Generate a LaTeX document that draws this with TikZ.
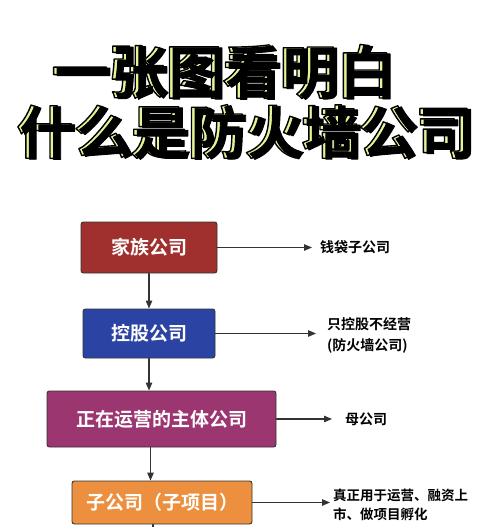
\documentclass[tikz,border=0pt]{standalone}
\usepackage{fontspec}
\setmainfont{Noto Sans CJK SC}[BoldFont={Noto Sans CJK SC Bold}]
\usetikzlibrary{arrows.meta,positioning}

\definecolor{redbox}{HTML}{A0302D}
\definecolor{bluebox}{HTML}{2B44A4}
\definecolor{purplebox}{HTML}{9B3670}
\definecolor{orangebox}{HTML}{EC8F3E}
\definecolor{shadowgreen}{HTML}{E4F598}
\definecolor{linegray}{HTML}{333333}

% outlined title with a green shadow behind it
\newcommand\greenshadow[1]{%
    \makebox[0pt][l]{\hspace*{-3.6pt}\raisebox{1pt}{\color{shadowgreen}%
        \special{pdf:literal direct 0 0 0 RG 2 Tr 1.4 w}#1%
        \special{pdf:literal direct 0 Tr}}}%
    \special{pdf:literal direct 0 0 0 RG 2 Tr 0.9 w}#1%
    \special{pdf:literal direct 0 Tr}}

\begin{document}
\begin{tikzpicture}[
    x=1pt,
    y=-1pt,
    line cap=round,
    line join=round,
    company/.style={
        draw=black!80,
        line width=0.9pt,
        rounded corners=2.5pt,
        text=white,
        font=\fontsize{19}{19}\selectfont\bfseries,
        inner sep=0pt
    },
    link/.style={
        draw=linegray,
        line width=1.1pt,
        -{Triangle[length=8pt,width=6.5pt]}
    },
    remark/.style={
        font=\fontsize{14}{21}\selectfont\bfseries,
        text=black,
        inner sep=0pt,
        anchor=west,
        align=left
    },
    title/.style={
        font=\fontsize{57}{57}\selectfont\bfseries,
        text=black,
        inner sep=0pt
    }
]

\useasboundingbox (0,0) rectangle (500,527);

% =================================================
% Заголовок
% =================================================

\node[title] (t1) at (226,72)  {\greenshadow{一张图看明白}};
\node[title] (t2) at (248,132) {\greenshadow{什么是防火墙公司}};

% =================================================
% Компании
% =================================================

\node[company,fill=redbox,minimum width=136,minimum height=51]
    (family) at (149,247.5) {家族公司};
\node[company,fill=bluebox,minimum width=132,minimum height=49]
    (holding) at (149,333.5) {控股公司};
\node[company,fill=purplebox,minimum width=229,minimum height=56]
    (main) at (161.5,419) {正在运营的主体公司};
\node[company,fill=orangebox,minimum width=180,minimum height=43]
    (sub) at (162,502.5) {子公司（子项目）};

% =================================================
% Подписи справа
% =================================================

\node[remark] (purse)  at (320,247.5) {钱袋子公司};
\node[remark] (wall)   at (327,335)   {只控股不经营\\(防火墙公司)};
\node[remark] (mother) at (345,419)   {母公司};
\node[remark,font=\fontsize{13.5}{19}\selectfont\bfseries]
    (project) at (333,505) {真正用于运营、融资上\\市、做项目孵化};

% =================================================
% Стрелки
% =================================================

\draw[link] (family.south) -- (holding.north);
\draw[link] (holding.south) -- (main.north -| holding.south);
\draw[link] ([xshift=1.5pt]main.south -| holding.south)
    -- ([xshift=1.5pt]sub.north -| holding.south);

\coordinate (tail) at (153,530);
\draw[draw=linegray,line width=1.1pt] (sub.south -| tail) -- (tail);

\draw[link] (family.east)  -- ([xshift=-8pt]purse.west);
\draw[link] (holding.east) -- ([xshift=-11pt]wall.west |- holding.east);
\draw[link] (main.east)    -- ([xshift=-13pt]mother.west);
\draw[link] (sub.east)     -- ([xshift=-3pt]project.west |- sub.east);

\end{tikzpicture}
\end{document}
